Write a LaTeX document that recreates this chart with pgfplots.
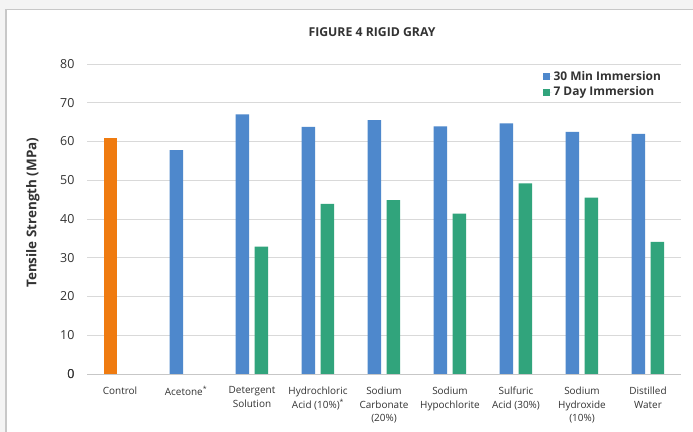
\documentclass[border=0pt]{standalone}
\usepackage{fontspec}
\setmainfont{Open Sans}
\usepackage{pgfplots}
\pgfplotsset{compat=1.18}
\definecolor{cblue}{HTML}{4E88CC}
\definecolor{cgreen}{HTML}{31A47C}
\definecolor{corange}{HTML}{EF7B10}
\definecolor{cgrid}{HTML}{D9D9D9}
\definecolor{cframe}{HTML}{C8C8C8}
\definecolor{cbg}{HTML}{F4F4F4}
\definecolor{ctext}{HTML}{333333}
\begin{document}
\begin{tikzpicture}
\path[use as bounding box] (0,0) rectangle (693bp,432bp);
\fill[cbg] (0,0) rectangle (693bp,432bp);
\fill[white] (6bp,0) rectangle (693bp,422.5bp);
\draw[cframe,line width=1.2bp] (6bp,0) -- (6bp,422.5bp) -- (693bp,422.5bp);
\node[font=\bfseries\fontsize{12.3}{14}\selectfont,text=ctext] at (372bp,400bp) {FIGURE 4 RIGID GRAY};
\begin{axis}[
  at={(87bp,58bp)}, anchor=south west,
  scale only axis, width=594bp, height=310bp,
  xmin=-0.5, xmax=8.5, ymin=0, ymax=80,
  axis line style={draw=none},
  axis x line*=bottom,
  ytick={0,10,...,80},
  ymajorgrids, grid style={cgrid,line width=0.9bp},
  extra y ticks={0}, extra y tick style={grid style={cgrid!80!gray,line width=0.9bp}},
  major tick length=0pt,
  /pgf/number format/assume math mode=true,
  yticklabel style={font=\fontsize{12.5}{14}\selectfont,text=ctext,xshift=-9bp},
  xtick={0,...,8},
  xticklabels={Control,Acetone\textsuperscript{*},Detergent\\Solution,Hydrochloric\\Acid (10\%)\textsuperscript{*},Sodium\\Carbonate\\(20\%),Sodium\\Hypochlorite,Sulfuric\\Acid (30\%),Sodium\\Hydroxide\\(10\%),Distilled\\Water},
  xticklabel style={font=\fontsize{10}{14}\selectfont,text=ctext,align=center,anchor=north,yshift=-9bp},
  ylabel={Tensile Strength (MPa)},
  every axis y label/.style={at={(axis description cs:-0.091,0.52)},rotate=90,anchor=center,
    font=\bfseries\fontsize{13.5}{15}\selectfont,text=ctext},
  ybar, bar width=13.5bp,
  legend style={at={(rel axis cs:0.975,0.99)},anchor=north east,draw=none,fill=none,
    font=\bfseries\fontsize{12}{14}\selectfont,text=ctext,row sep=1bp,
    legend cell align=left},
  legend image code/.code={\path (0bp,0bp) -- (9bp,0bp);\fill[#1] (0bp,-3.5bp) rectangle (7bp,3.5bp);},
]
\addplot[fill=corange,draw=none,bar shift=-9.5bp,forget plot] coordinates {(0,60.9)};
\addplot[fill=cblue,draw=none,bar shift=-9.5bp] coordinates {
(1,57.8) (2,67.0) (3,63.8) (4,65.5) (5,63.9) (6,64.7) (7,62.5) (8,62.0)};
\addplot[fill=cgreen,draw=none,bar shift=9.5bp] coordinates {
(2,32.9) (3,43.9) (4,44.9) (5,41.4) (6,49.2) (7,45.5) (8,34.1)};
\legend{30 Min Immersion,7 Day Immersion}
\end{axis}
\end{tikzpicture}
\end{document}
